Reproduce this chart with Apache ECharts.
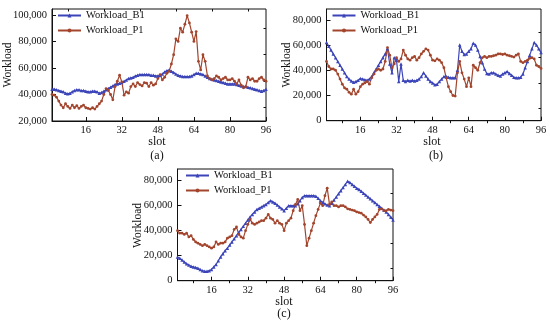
<!DOCTYPE html>
<html>
<head>
<meta charset="utf-8">
<script src="https://cdn.jsdelivr.net/npm/echarts@6/dist/echarts.min.js"></script>
<style>
html,body{margin:0;padding:0;background:#fff;}
#chart{width:550px;height:323px;}
</style>
</head>
<body>
<div id="chart"></div>
<script>
// ---------- data ----------
var slots = [1,2,3,4,5,6,7,8,9,10,11,12,13,14,15,16,17,18,19,20,21,22,23,24,25,26,27,28,29,30,31,32,
  33,34,35,36,37,38,39,40,41,42,43,44,45,46,47,48,49,50,51,52,53,54,55,56,57,58,59,60,61,62,63,64,
  65,66,67,68,69,70,71,72,73,74,75,76,77,78,79,80,81,82,83,84,85,86,87,88,89,90,91,92,93,94,95,96];
var slotTicks = [16,32,48,64,80,96];
var slotMinorTicks = [8,24,40,56,72,88];

var seriesNames = ['Workload_B1','Workload_P1'];
var panelLabels = ['(a)','(b)','(c)'];

var yTicksA = [20000,40000,60000,80000,100000];
var yMinorA = [30000,50000,70000,90000];
var yTicksBC = [0,20000,40000,60000,80000];
var yMinorBC = [10000,30000,50000,70000];

// (a)
var aB1 = [44000,44000,43500,43000,42500,42000,41000,40500,41000,42000,43000,43500,43500,43000,43000,42500,
  42000,42000,42500,42500,42000,41000,41500,42500,43500,44500,45500,46500,47500,48000,48500,49000,
  50000,51000,52000,52500,53000,54000,54500,55000,55000,55000,55000,55000,54500,54500,54000,54000,
  54500,55500,57000,58000,58500,57500,56500,55500,54500,54000,53500,53500,53500,53500,54000,55000,
  56000,56000,55500,55000,54000,53000,52000,51500,51000,50500,50000,49500,49000,48500,48000,48000,
  48000,48000,47500,47000,46500,46000,46000,45500,45000,44500,44000,43500,43000,42500,43000,44000];
var aP1 = [40000,39500,38000,35000,32000,30000,33000,31000,29500,32000,30000,31500,29500,31000,32000,30000,
  29500,29000,30000,29000,31000,33000,35000,40000,44500,43000,40000,36000,46000,50000,54500,49500,
  39500,42000,41000,46000,48000,46000,49000,47500,46500,49000,48500,46000,49000,47000,48000,52000,
  55000,51000,53000,56000,57500,63000,70000,82000,80000,90000,87000,93000,99500,94000,87000,80000,
  87500,65000,58500,70000,65000,54000,52000,51000,52000,54000,53000,51000,52000,53000,51000,51000,
  52000,50000,48000,51000,47000,45000,46000,53000,51000,52000,50000,50000,52000,53000,51000,50000];
// (b)
var bB1 = [62000,59000,56000,53000,50000,47000,44000,41000,38000,35000,33000,31500,30500,31000,32000,33500,
  33000,32500,32000,33000,35000,38000,41000,44000,47000,50000,53000,57000,45000,38000,50000,48000,
  31000,45000,32000,31000,32000,31500,32000,31500,32000,33000,35000,38000,35500,33000,31000,30000,
  28500,29000,31000,33000,35000,35000,34500,34000,34000,34000,40000,60000,55000,52500,53000,55000,
  57000,61500,60000,56000,51000,46000,41000,37500,37000,38000,38000,37000,36000,35500,37000,38000,
  39000,37500,36000,34500,34000,34000,34500,37000,42000,47000,52000,57000,62000,60000,57000,54000];
var bP1 = [47000,43000,41000,41000,40000,37000,33000,29000,26000,25000,22500,21000,25000,21000,23000,27000,
  29000,30000,31000,29000,34000,37000,40000,41000,40000,41000,47000,58000,52000,42000,45000,50000,
  47000,49000,56000,52000,49000,48000,50000,51000,48000,50000,53000,55000,57000,56000,52000,48000,
  47500,49000,48000,46000,42000,34000,27000,23000,20000,19500,38000,47000,38000,33000,27000,34000,
  27000,44000,42000,40000,46000,50000,51000,50000,51000,51000,51500,52000,53000,53000,52500,53000,
  52000,51500,51000,50500,52000,53000,47000,46000,47000,48000,49500,50000,49000,44000,43000,41500];
// (c)
var cB1 = [19000,18000,16500,15000,13500,12500,11500,11000,10500,10000,9000,8000,7500,7500,8000,9000,
  11000,13000,16000,19000,21500,24000,26000,28500,31000,33500,36000,38500,41000,43500,46000,48500,
  51000,53000,55000,57000,58000,59000,60000,61000,62500,64000,63000,62000,60500,59000,57500,56000,
  58000,60000,60000,60000,60000,61500,64000,66500,68000,68000,68000,68000,68000,67500,66000,64000,
  62500,61500,60500,60000,62000,64500,67000,69500,72000,74500,77000,79500,78500,77000,75500,74000,
  73000,71500,70000,68500,67000,65500,64000,62500,61000,59500,58000,56500,55000,53000,51000,48500];
var cP1 = [40000,38000,38000,37000,38000,35000,36000,33000,31000,30000,29000,28000,29000,28000,27000,26000,
  27000,31000,29000,30000,30000,31000,34000,35000,36000,41000,43000,37000,35000,34000,40000,45000,
  49000,46000,45000,46000,47000,48000,48000,50000,53000,50000,49000,46000,48000,46000,45000,40000,
  46000,48000,50000,56000,61000,65000,56000,60000,45000,28000,34000,40000,46000,52000,57000,62000,
  60000,68000,74000,61000,63000,60000,60000,59000,60000,60000,59000,57500,57000,56500,56000,55000,
  54500,54000,52500,51000,49000,46500,49000,51000,53000,57000,57500,56000,56000,57000,56500,56000];

var panels = [
  {b1: aB1, p1: aP1, yMin: 20000, yMax: 104500, yTicks: yTicksA, yMinor: yMinorA},
  {b1: bB1, p1: bP1, yMin: 0, yMax: 88600, yTicks: yTicksBC, yMinor: yMinorBC},
  {b1: cB1, p1: cP1, yMin: 0, yMax: 89300, yTicks: yTicksBC, yMinor: yMinorBC}
];

// ---------- layout / style ----------
var layout = [
  {left: 52, top: 9, width: 214, height: 112, legendLeft: 57, legendTop: 10,
   yName: [8, 65], xName: [157, 141.5], panel: [157, 156]},
  {left: 326.5, top: 9, width: 214.5, height: 111.7, legendLeft: 331.5, legendTop: 10,
   yName: [287, 65], xName: [432, 141.5], panel: [436, 156]},
  {left: 177.5, top: 169, width: 215.5, height: 111.7, legendLeft: 185, legendTop: 170,
   yName: [138, 225.5], xName: [284, 301.5], panel: [284, 313.5]}
];
var FONT = '"Liberation Serif", "Times New Roman", serif';
var BLUE = '#3b44b8';
var BROWN = '#a3452d';
var BLACK = '#111';

var option = {
  animation: false,
  backgroundColor: '#fff',
  grid: [], xAxis: [], yAxis: [], series: [], legend: [], graphic: []
};

panels.forEach(function (p, i) {
  var L = layout[i];
  option.grid.push({left: L.left, top: L.top, width: L.width, height: L.height,
    show: true, borderColor: BLACK, borderWidth: 1, backgroundColor: 'transparent'});
  // major x
  option.xAxis.push({
    gridIndex: i, type: 'value', min: 1, max: 96,
    axisLine: {onZero: false, lineStyle: {color: BLACK, width: 1}},
    axisTick: {inside: true, length: 4, customValues: slotTicks, lineStyle: {color: BLACK}},
    axisLabel: {customValues: slotTicks, margin: 4, fontSize: 10.5, fontFamily: FONT, color: '#111'},
    splitLine: {show: false}
  });
  // minor x
  option.xAxis.push({
    gridIndex: i, type: 'value', min: 1, max: 96,
    axisLine: {show: false},
    axisTick: {inside: true, length: 2.5, customValues: slotMinorTicks, lineStyle: {color: BLACK}},
    axisLabel: {show: false},
    splitLine: {show: false}
  });
  // major y
  option.yAxis.push({
    gridIndex: i, type: 'value', min: p.yMin, max: p.yMax,
    axisLine: {show: true, onZero: false, lineStyle: {color: BLACK, width: 1}},
    axisTick: {show: true, inside: true, length: 4, customValues: p.yTicks, lineStyle: {color: BLACK}},
    axisLabel: {customValues: p.yTicks, margin: 5, fontSize: 10.5, fontFamily: FONT, color: '#111'},
    splitLine: {show: false}
  });
  // minor y
  option.yAxis.push({
    gridIndex: i, type: 'value', min: p.yMin, max: p.yMax,
    axisLine: {show: false},
    axisTick: {show: true, inside: true, length: 2.5, customValues: p.yMinor, lineStyle: {color: BLACK}},
    axisLabel: {show: false},
    splitLine: {show: false}
  });

  var xi = i * 2, yi = i * 2;
  option.series.push({
    name: seriesNames[0], type: 'line', xAxisIndex: xi, yAxisIndex: yi,
    data: slots.map(function (s, k) { return [s, p.b1[k]]; }),
    symbol: 'triangle', symbolSize: 3.5, showAllSymbol: true,
    lineStyle: {color: BLUE, width: 1.2}, itemStyle: {color: BLUE}
  });
  option.series.push({
    name: seriesNames[1], type: 'line', xAxisIndex: xi, yAxisIndex: yi,
    data: slots.map(function (s, k) { return [s, p.p1[k]]; }),
    symbol: 'circle', symbolSize: 2.8, showAllSymbol: true,
    lineStyle: {color: BROWN, width: 1.2}, itemStyle: {color: BROWN}
  });

  option.legend.push({
    data: seriesNames, orient: 'vertical', left: L.legendLeft, top: L.legendTop,
    padding: 0, itemGap: 4, itemWidth: 23, itemHeight: 5,
    textStyle: {fontSize: 10.5, fontFamily: FONT, color: '#111'},
    selectedMode: false
  });

  option.graphic.push({
    type: 'text', x: L.yName[0], y: L.yName[1], rotation: Math.PI / 2,
    style: {text: 'Workload', align: 'center', verticalAlign: 'middle',
      fontSize: 11.5, fontFamily: FONT, fill: '#111'}
  });
  option.graphic.push({
    type: 'text', x: L.xName[0], y: L.xName[1],
    style: {text: 'slot', align: 'center', verticalAlign: 'middle',
      fontSize: 12, fontFamily: FONT, fill: '#111'}
  });
  option.graphic.push({
    type: 'text', x: L.panel[0], y: L.panel[1],
    style: {text: panelLabels[i], align: 'center', verticalAlign: 'middle',
      fontSize: 12, fontFamily: FONT, fill: '#111'}
  });
});

var chart = echarts.init(document.getElementById('chart'), null, {renderer: 'canvas'});
chart.setOption(option);
</script>
</body>
</html>
